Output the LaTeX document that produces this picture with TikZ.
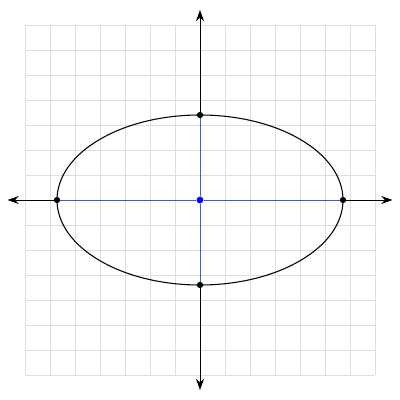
\documentclass[tikz,border=0pt]{standalone}
\usetikzlibrary{arrows.meta}

\begin{document}
\begin{tikzpicture}
        % Define the styles
        \tikzset{dot/.style={circle,fill=black,inner sep=0pt,minimum size=2.5mm},
                 axis/.style={line width=1pt,-{Stealth[length=4.5mm,width=3.2mm]}},
                 half/.style={line width=1pt,color={rgb,255:red,45;green,100;blue,210}}}
        \useasboundingbox (-8,-8) rectangle (8,8);

        % Grid
        \draw[black!13, line width=1pt] (-7,-7) grid (7,7);

        % Ends of the axes
        \coordinate (l) at (-7.7,0);
        \coordinate (r) at (7.7,0);
        \coordinate (t) at (0,7.6);
        \coordinate (b) at (0,-7.6);

        % Ellipse
        \draw[line width=1.2pt] (0,0) ellipse (5.72 and 3.4);

        % Nodes
        \node[dot] (1) at (-5.72,0) {};
        \node[dot] (2) at (5.72,0) {};
        \node[dot] (3) at (0,3.4) {};
        \node[dot] (4) at (0,-3.4) {};
        \node[dot,fill=blue,minimum size=2.7mm] (0) at (0,0) {};

        % Edges
        \draw[half] (1) -- (0);
        \draw[half] (0) -- (2);
        \draw[half] (3) -- (0);
        \draw[half] (0) -- (4);
        \draw[axis] (1) -- (l);
        \draw[axis] (2) -- (r);
        \draw[axis] (3) -- (t);
        \draw[axis] (4) -- (b);
    \end{tikzpicture}
\end{document}
